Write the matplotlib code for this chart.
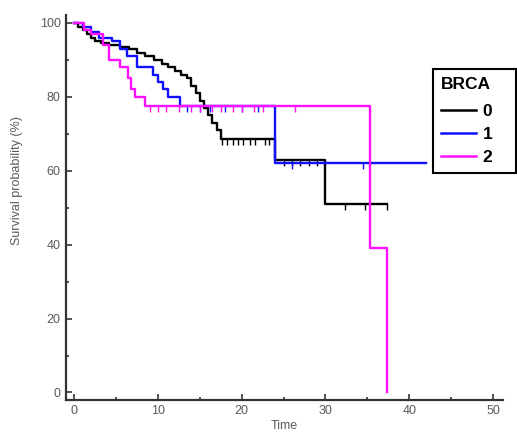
import numpy as np
import matplotlib
matplotlib.use("Agg")
import matplotlib.pyplot as plt
import matplotlib.ticker as mticker
from matplotlib.lines import Line2D

plt.rcParams['font.family'] = ['Liberation Sans', 'DejaVu Sans']

# Kaplan-Meier steps per BRCA group: event times and survival (%) after each step
t0 = [0, 0.5, 1, 1.5, 2, 2.5, 3.2, 4.2, 5.5, 6.5, 7.5, 8.5, 9.5, 10.5, 11.2, 12, 12.8,
      13.5, 14, 14.5, 15, 15.5, 16, 16.5, 17, 17.5, 24, 30, 37.3]
s0 = [100, 99, 98, 97, 96, 95, 94.5, 94, 93.5, 93, 92, 91, 90, 89, 88, 87, 86,
      85, 83, 81, 79, 77, 75, 73, 71, 68.5, 63, 51, 51]
c0 = [17.7, 18.3, 19, 19.6, 20.2, 21, 21.6, 22.8, 23.3, 25, 26, 27, 28, 29, 32.3, 34.7, 37.3]

t1 = [0, 1, 2, 3, 4.5, 5.5, 6.3, 7.5, 9.4, 10, 10.6, 11.2, 12.6, 24, 42]
s1 = [100, 99, 97.5, 96, 95, 93, 91, 88, 86, 84, 82, 80, 77.5, 62, 62]
c1 = [13.5, 15, 16.2, 18, 20, 22, 26, 34.5]

t2 = [0, 1.2, 2, 3.5, 4.2, 5.5, 6.4, 6.8, 7.3, 8.5, 35.3, 37.3]
s2 = [100, 98, 97, 94, 90, 88, 85, 82, 80, 77.5, 39, 0]
c2 = [9, 10, 11, 12.5, 14, 15, 16.5, 17.5, 19, 20, 21.5, 22.5, 26.4]

groups = ['0', '1', '2']
colors = ['black', '#1010ff', '#ff10ff']

fig = plt.figure(figsize=(5.17, 4.37), dpi=100)
ax = fig.add_axes([0.128, 0.085, 0.845, 0.881])

for t, s, c, col in zip([t0, t1, t2], [s0, s1, s2], [c0, c1, c2], colors):
    ax.step(t, s, where='post', color=col, lw=1.7)
    idx = np.searchsorted(t, c, side='right') - 1
    ax.plot(c, np.array(s)[idx], ls='none', marker=3, ms=4, mew=1.0, color=col)

ax.set_xlim(-0.95, 51.2)
ax.set_ylim(-2, 102.2)
ax.xaxis.set_major_locator(mticker.MultipleLocator(10))
ax.xaxis.set_minor_locator(mticker.MultipleLocator(5))
ax.yaxis.set_major_locator(mticker.MultipleLocator(20))
ax.yaxis.set_minor_locator(mticker.MultipleLocator(10))
ax.tick_params(which='both', direction='in', colors='#333333', labelcolor='#5a5a5a',
               labelsize=9, width=1.2)
ax.tick_params(which='major', length=4, pad=4)
ax.tick_params(which='minor', length=2)
for side in ['top', 'right']:
    ax.spines[side].set_visible(False)
for side in ['left', 'bottom']:
    ax.spines[side].set_linewidth(1.6)
    ax.spines[side].set_color('#333333')

ax.set_xlabel('Time', fontsize=9, color='#5a5a5a', labelpad=2)
ax.set_ylabel('Survival probability (%)', fontsize=9, color='#5a5a5a')
ax.yaxis.set_label_coords(-0.098, 0.57)

handles = [Line2D([], [], color=col, lw=1.8) for col in colors]
leg = ax.legend(handles, groups, title='BRCA', loc='upper left', mode='expand',
                bbox_to_anchor=(433 / 517, 1 - 175 / 437, 83 / 517, 106 / 437),
                bbox_transform=fig.transFigure,
                fancybox=False, edgecolor='black', framealpha=1,
                prop={'size': 12.5, 'weight': 'bold'},
                title_fontproperties={'size': 12.5, 'weight': 'bold'},
                handlelength=2.0, handletextpad=0.4,
                labelspacing=0.45, borderpad=0.45, borderaxespad=0, alignment='left')
leg.get_frame().set_linewidth(1.5)
leg._legend_box.sep = 9

fig.savefig('out.png', dpi=100)
